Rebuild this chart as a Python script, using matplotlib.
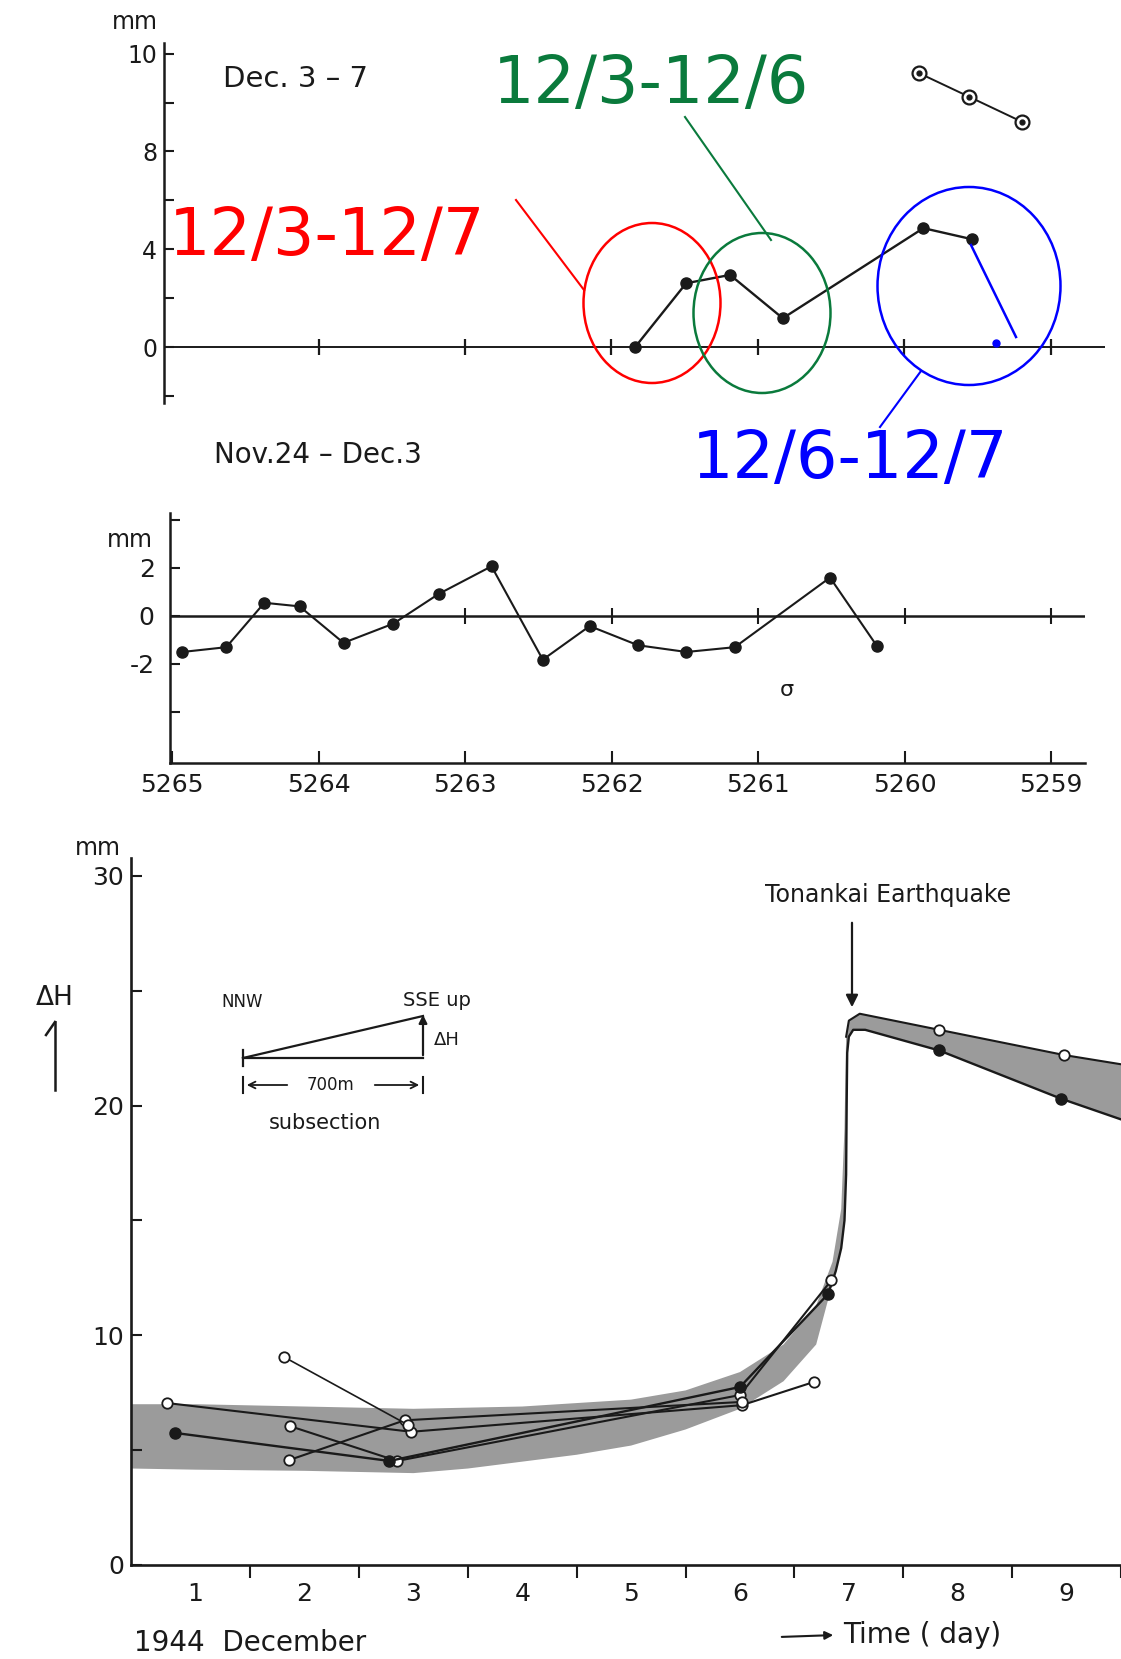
import matplotlib
matplotlib.use("Agg")
import matplotlib.pyplot as plt
from matplotlib.patches import Ellipse
from matplotlib.lines import Line2D
import numpy as np

W, H = 1121, 1659

# ---------------- data ----------------
# top panel (Dec. 3-7): benchmark position vs. change (axis tick units)
top_bm = [5261.84, 5261.49, 5261.19, 5260.83, 5259.87, 5259.54]
top_mm = [0.0, 2.62, 2.96, 1.19, 4.87, 4.42]
top2_bm = [5259.90, 5259.56, 5259.20]
top2_mm = [11.2, 10.24, 9.22]
top_yticks = [-2, 0, 2, 4, 6, 8, 10, 12]
top_yticklabels = ["", "0", "", "4", "", "8", "", "10"]

# middle panel (Nov.24 - Dec.3)
mid_bm = [5264.93, 5264.63, 5264.37, 5264.13, 5263.83, 5263.49, 5263.18, 5262.82,
          5262.47, 5262.15, 5261.82, 5261.49, 5261.16, 5260.51, 5260.19]
mid_mm = [-1.5, -1.3, 0.55, 0.4, -1.12, -0.32, 0.92, 2.07,
          -1.82, -0.42, -1.22, -1.5, -1.3, 1.6, -1.25]
mid_yticks = [-4, -2, 0, 2, 4]
mid_yticklabels = ["", "-2", "0", "2", ""]
bm_ticks = [5265, 5264, 5263, 5262, 5261, 5260, 5259]
bm_labels = ["5265", "5264", "5263", "5262", "5261", "5260", "5259"]

# bottom panel (1944 December, Delta H in mm)
a_days = [0.74, 2.98, 6.02, 6.68]
a_vals = [7.05, 5.8, 6.96, 7.97]
b_days = [0.81, 2.78, 6.0, 6.81]
b_vals = [5.75, 4.53, 7.75, 11.8]
c_days = [1.87, 2.85, 6.0, 6.84]
c_vals = [6.04, 4.53, 7.4, 12.4]
d_days = [1.86, 2.92, 6.02]
d_vals = [4.57, 6.3, 7.1]
e_days = [1.81, 2.95]
e_vals = [9.06, 6.1]

pre_top_days = [0.41, 1.0, 2.0, 3.0, 4.0, 5.0, 5.5, 6.0, 6.4, 6.7, 6.85, 6.93, 6.96]
pre_top_vals = [7.0, 7.0, 6.9, 6.8, 6.9, 7.2, 7.6, 8.4, 9.6, 11.3, 13.2, 15.5, 19.0]
post_top_days = [6.975, 7.0, 7.1, 7.83, 8.98, 9.5]
post_top_vals = [23.0, 23.7, 24.0, 23.3, 22.2, 21.8]
pre_bot_days = [0.41, 1.0, 2.0, 3.0, 3.5, 4.0, 4.5, 5.0, 5.5, 6.0, 6.4, 6.7]
pre_bot_vals = [4.2, 4.15, 4.1, 4.0, 4.2, 4.5, 4.8, 5.2, 5.9, 6.8, 8.0, 9.6]
rise_days = [6.81, 6.88, 6.93, 6.96, 6.975, 6.98, 6.985, 7.0, 7.04, 7.15, 7.83, 8.95, 9.5]
rise_vals = [11.8, 12.8, 13.8, 15.0, 17.0, 20.0, 22.3, 23.0, 23.3, 23.3, 22.4, 20.3, 19.4]
post_open_days = [7.83, 8.98]
post_open_vals = [23.3, 22.2]
post_filled_days = [7.83, 8.95]
post_filled_vals = [22.4, 20.3]

day_ticks = [1.5, 2.5, 3.5, 4.5, 5.5, 6.5, 7.5, 8.5, 9.5]
day_labels_pos = [1, 2, 3, 4, 5, 6, 7, 8, 9]
day_labels = ["1", "2", "3", "4", "5", "6", "7", "8", "9"]
dh_yticks = [0, 5, 10, 15, 20, 25, 30]
dh_yticklabels = ["0", "", "10", "", "20", "", "30"]

# ---------------- figure ----------------
plt.rcParams["font.family"] = ["DejaVu Sans"]
INK = "#1a1a1a"
fig = plt.figure(figsize=(W / 100, H / 100), dpi=100)
fig.patch.set_facecolor("white")


def box(l, t, r, b):
    return [l / W, 1 - b / H, (r - l) / W, (b - t) / H]


def F(x, y):
    return (x / W, 1 - y / H)


def fline(xs, ys, **kw):
    fig.add_artist(Line2D([x / W for x in xs], [1 - y / H for y in ys],
                          transform=fig.transFigure, **kw))


def ftext(x, y, s, **kw):
    fig.text(x / W, 1 - y / H, s, **kw)


def farrow(x0, y0, x1, y1, **kw):
    fig.add_artist(plt.Annotation("", xy=F(x1, y1), xytext=F(x0, y0),
                                  xycoords="figure fraction", textcoords="figure fraction",
                                  arrowprops=kw))


# ---- top panel ----
ax1 = fig.add_axes(box(164, 43, 1105, 403))
ax1.set_xlim(5265.055, 5258.63)
ax1.set_ylim(-2.27, 12.43)
for s in ["top", "right", "bottom"]:
    ax1.spines[s].set_visible(False)
ax1.spines["left"].set_linewidth(1.8)
ax1.spines["left"].set_color(INK)
ax1.patch.set_alpha(0)
ax1.axhline(0, color=INK, lw=1.4)
ax1.plot(bm_ticks[1:], [0] * len(bm_ticks[1:]), ls="none", marker="|", ms=12, mew=1.6, color=INK)
ax1.plot(top_bm, top_mm, "-o", color=INK, lw=1.7, ms=8)
ax1.plot(top2_bm, top2_mm, "-o", color=INK, mfc="white", mec=INK, mew=1.6, ms=10, lw=1.4)
ax1.plot(top2_bm, top2_mm, ls="none", marker="o", ms=3.5, color=INK)
ax1.set_xticks([])
ax1.set_yticks(top_yticks)
ax1.set_yticklabels(top_yticklabels)
ax1.tick_params(axis="y", direction="in", length=7, width=1.5, labelsize=17, pad=5, colors=INK)
ftext(135, 22, "mm", fontsize=17, ha="center", va="center", color=INK)
ftext(223, 87, "Dec. 3 \u2013 7", fontsize=21, ha="left", va="baseline", color=INK)
ftext(214, 463, "Nov.24 \u2013 Dec.3", fontsize=20, ha="left", va="baseline", color=INK)

# ---- middle panel ----
ax2 = fig.add_axes(box(170, 513, 1085, 763))
ax2.set_xlim(5265.014, 5258.77)
ax2.set_ylim(-6.125, 4.29)
for s in ["top", "right"]:
    ax2.spines[s].set_visible(False)
for s in ["left", "bottom"]:
    ax2.spines[s].set_linewidth(1.8)
    ax2.spines[s].set_color(INK)
ax2.patch.set_alpha(0)
ax2.axhline(0, color=INK, lw=1.8)
ax2.plot(bm_ticks[2:], [0] * len(bm_ticks[2:]), ls="none", marker="|", ms=12, mew=1.5, color=INK)
ax2.plot(mid_bm, mid_mm, "-o", color=INK, lw=1.5, ms=8)
ax2.set_xticks(bm_ticks)
ax2.set_xticklabels(bm_labels)
ax2.set_yticks(mid_yticks)
ax2.set_yticklabels(mid_yticklabels)
ax2.tick_params(axis="x", direction="in", length=9, width=1.5, labelsize=18, pad=7, colors=INK)
ax2.tick_params(axis="y", direction="in", length=7, width=1.5, labelsize=18, pad=11, colors=INK)
ftext(130, 540, "mm", fontsize=17, ha="center", va="center", color=INK)
ftext(787, 690, "\u03c3", fontsize=16, ha="center", va="center", color=INK)

# ---- bottom panel ----
ax3 = fig.add_axes(box(131, 858, 1121, 1565))
ax3.set_xlim(0.406, 9.447)
ax3.set_ylim(0, 30.78)
for s in ["top", "right"]:
    ax3.spines[s].set_visible(False)
for s in ["left", "bottom"]:
    ax3.spines[s].set_linewidth(1.9)
    ax3.spines[s].set_color(INK)
ax3.patch.set_alpha(0)

band_x = np.r_[pre_top_days, post_top_days, rise_days[::-1][:-1], pre_bot_days[::-1]]
band_y = np.r_[pre_top_vals, post_top_vals, rise_vals[::-1][:-1], pre_bot_vals[::-1]]
ax3.fill(band_x, band_y, color="#9b9b9b", lw=0, zorder=1)

ax3.plot(rise_days, rise_vals, color=INK, lw=1.7, zorder=3)
ax3.plot(post_top_days, post_top_vals, color=INK, lw=1.5, zorder=3)
openkw = dict(marker="o", mfc="white", mec=INK, mew=1.3, ms=7.5, color=INK, lw=1.5, zorder=4)
ax3.plot(a_days, a_vals, **openkw)
ax3.plot(c_days, c_vals, **openkw)
ax3.plot(d_days, d_vals, **openkw)
ax3.plot(e_days, e_vals, **dict(openkw, lw=1.2))
ax3.plot(b_days, b_vals, marker="o", color=INK, ms=8, lw=1.7, zorder=4)
ax3.plot(post_open_days, post_open_vals, ls="none", **{k: v for k, v in openkw.items() if k != "lw"})
ax3.plot(post_filled_days, post_filled_vals, ls="none", marker="o", color=INK, ms=8, zorder=4)

ax3.set_xticks(day_ticks)
ax3.set_xticklabels([])
ax3.set_xticks(day_labels_pos, minor=True)
ax3.set_xticklabels(day_labels, minor=True)
ax3.tick_params(axis="x", which="major", direction="out", length=9, width=1.5, colors=INK)
ax3.tick_params(axis="x", which="minor", length=0, labelsize=18, pad=12, colors=INK)
ax3.set_yticks(dh_yticks)
ax3.set_yticklabels(dh_yticklabels)
ax3.tick_params(axis="y", direction="in", length=8, width=1.5, labelsize=18, pad=5, colors=INK)

ftext(98, 848, "mm", fontsize=17, ha="center", va="center", color=INK)
ftext(55, 998, "\u0394H", fontsize=19, ha="center", va="center", color=INK)
fline([55, 55], [1022, 1090], color=INK, lw=1.8)
fline([55, 46], [1022, 1035], color=INK, lw=1.8)

# inset sketch
ftext(242, 1002, "NNW", fontsize=12, ha="center", va="center", color=INK)
ftext(437, 1000, "SSE up", fontsize=14, ha="center", va="center", color=INK)
fline([243, 423], [1058, 1058], color=INK, lw=1.6)
fline([243, 243], [1050, 1066], color=INK, lw=1.6)
fline([243, 423], [1058, 1016], color=INK, lw=1.6)
farrow(423, 1058, 423, 1012, arrowstyle="-|>", color=INK, lw=1.6, mutation_scale=12)
ftext(447, 1040, "\u0394H", fontsize=13, ha="center", va="center", color=INK)
fline([243, 243], [1077, 1093], color=INK, lw=1.5)
fline([423, 423], [1077, 1093], color=INK, lw=1.5)
farrow(290, 1085, 244, 1085, arrowstyle="->", color=INK, lw=1.3, mutation_scale=12)
farrow(372, 1085, 422, 1085, arrowstyle="->", color=INK, lw=1.3, mutation_scale=12)
ftext(331, 1085, "700m", fontsize=12, ha="center", va="center", color=INK)
ftext(325, 1123, "subsection", fontsize=15, ha="center", va="center", color=INK)

ftext(888, 895, "Tonankai Earthquake", fontsize=17, ha="center", va="center", color=INK)
farrow(852, 920, 852, 1010, arrowstyle="-|>", color=INK, lw=1.6, mutation_scale=18)

ftext(250, 1643, "1944  December", fontsize=20, ha="center", va="center", color=INK)
farrow(779, 1637, 836, 1635, arrowstyle="-|>", color=INK, lw=1.5, mutation_scale=12)
ftext(843, 1635, "Time ( day)", fontsize=20, ha="left", va="center", color=INK)

# ---- colored annotations ----
RED, GREEN, BLUE = "#ff0000", "#0a7a3c", "#0000ff"
ftext(327, 255, "12/3-12/7", fontsize=47, color=RED, ha="center", va="baseline")
ftext(651, 103, "12/3-12/6", fontsize=47, color=GREEN, ha="center", va="baseline")
ftext(850, 478, "12/6-12/7", fontsize=47, color=BLUE, ha="center", va="baseline")

for (cx, cy, w, h, c) in [(652, 303, 137, 160, RED), (762, 313, 137, 160, GREEN),
                          (969, 286, 183, 198, BLUE)]:
    fig.add_artist(Ellipse(F(cx, cy), w / W, h / H, transform=fig.transFigure,
                           fill=False, ec=c, lw=1.8))
fline([516, 584], [200, 290], color=RED, lw=1.5)
fline([685, 771], [117, 240], color=GREEN, lw=1.5)
fline([880, 921], [427, 371], color=BLUE, lw=1.5)
fline([971, 1016], [245, 337], color=BLUE, lw=1.8)
fline([996], [343], color=BLUE, marker="o", ms=5, ls="none")

fig.savefig("out.png", dpi=100, facecolor="white")
